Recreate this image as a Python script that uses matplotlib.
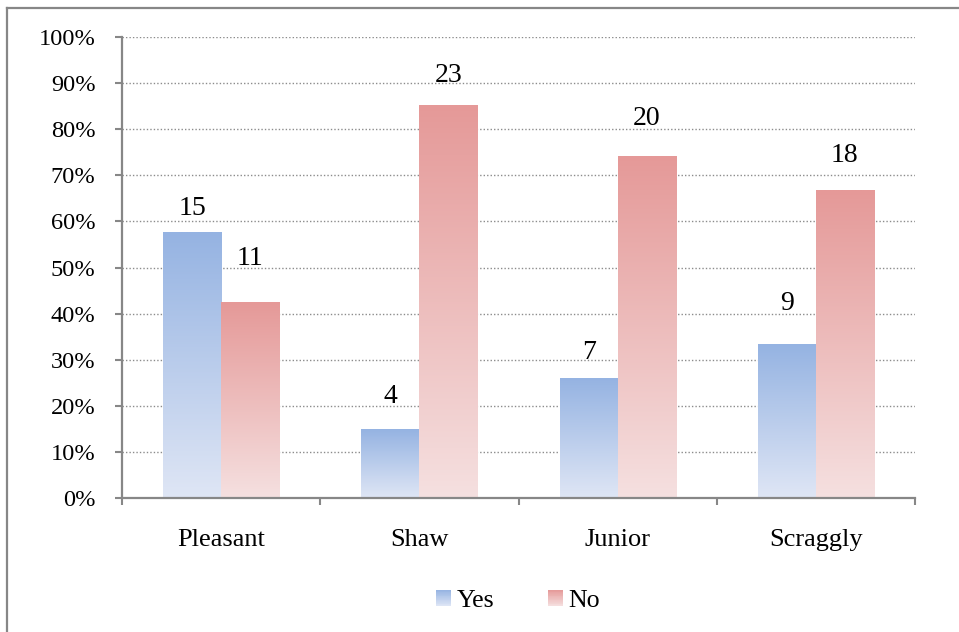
import numpy as np
import matplotlib
matplotlib.use("Agg")
import matplotlib.pyplot as plt
from matplotlib.colors import LinearSegmentedColormap, to_rgb
from matplotlib.legend_handler import HandlerBase
from matplotlib.patches import Rectangle
from matplotlib.lines import Line2D

# Survey answers per area
categories = ["Pleasant", "Shaw", "Junior", "Scraggly"]
yes_counts = [15, 4, 7, 9]
no_counts = [11, 23, 20, 18]
series_names = ["Yes", "No"]

# how far each count label sits above its bar (points)
yes_label_lift = [12, 19, 14, 25]
no_label_lift = [27, 17, 23, 21]

yes_counts = np.array(yes_counts, dtype=float)
no_counts = np.array(no_counts, dtype=float)
totals = yes_counts + no_counts
yes_share = yes_counts / totals * 100
no_share = no_counts / totals * 100

# gradient colours: (top, bottom)
YES_GRAD = ("#95B3E2", "#DFE6F5")
NO_GRAD = ("#E59998", "#F5E0E0")
AXIS_GRAY = "#878787"

plt.rcParams["font.family"] = ["Liberation Serif", "DejaVu Serif"]

fig = plt.figure(figsize=(9.59, 6.32), dpi=100)
ax = fig.add_axes([122 / 959, 1 - 498 / 632, (915 - 122) / 959, (498 - 37) / 632])

x = np.arange(len(categories))
width = 0.293


def gradient_bars(ax, xs, heights, grad):
    cmap = LinearSegmentedColormap.from_list("g", [grad[1], grad[0]])
    bars = ax.bar(xs, heights, width, color="none", edgecolor="none", zorder=2)
    grad_img = np.linspace(0, 1, 256).reshape(-1, 1)
    for b in bars:
        x0, y0 = b.get_x(), b.get_y()
        w, h = b.get_width(), b.get_height()
        ax.imshow(grad_img, cmap=cmap, origin="lower", aspect="auto",
                  extent=(x0, x0 + w, y0, y0 + h), zorder=2,
                  interpolation="bilinear")
    return bars


bars_yes = gradient_bars(ax, x - width / 2, yes_share, YES_GRAD)
bars_no = gradient_bars(ax, x + width / 2, no_share, NO_GRAD)

# count labels above each bar
for bars, counts, lifts in ((bars_yes, yes_counts, yes_label_lift),
                            (bars_no, no_counts, no_label_lift)):
    for b, c, lift in zip(bars, counts, lifts):
        ax.annotate(f"{int(c)}", (b.get_x() + b.get_width() / 2, b.get_height()),
                    xytext=(0, lift), textcoords="offset points",
                    ha="center", va="baseline", fontsize=20, color="black")

ax.set_xlim(-0.5, len(categories) - 0.5)
ax.set_ylim(0, 100)

# y axis
ax.set_yticks(np.arange(0, 101, 10))
ax.set_yticklabels([f"{v}%" for v in range(0, 101, 10)])
ax.yaxis.grid(True, linestyle=(0, (1, 1.5)), color="#8c8c8c", linewidth=1.0, zorder=0)
ax.set_axisbelow(True)

# x axis: ticks between categories, labels at centres
ax.set_xticks(np.arange(-0.5, len(categories), 1.0))
ax.set_xticklabels([])
ax.set_xticks(x, minor=True)
ax.set_xticklabels(categories, minor=True)
ax.tick_params(axis="x", which="major", length=5, width=1.5, color=AXIS_GRAY, direction="out")
ax.tick_params(axis="x", which="minor", length=0, pad=22, labelsize=19)
ax.tick_params(axis="y", length=5, width=1.5, color=AXIS_GRAY, direction="out",
               pad=14, labelsize=17.6)

for s in ("top", "right"):
    ax.spines[s].set_visible(False)
for s in ("left", "bottom"):
    ax.spines[s].set_color(AXIS_GRAY)
    ax.spines[s].set_linewidth(1.6)


class GradientHandler(HandlerBase):
    def __init__(self, grad, n=20):
        super().__init__()
        self.grad = grad
        self.n = n

    def create_artists(self, legend, orig_handle, xdescent, ydescent,
                       width, height, fontsize, trans):
        top = np.array(to_rgb(self.grad[0]))
        bot = np.array(to_rgb(self.grad[1]))
        artists = []
        for i in range(self.n):
            t = (i + 0.5) / self.n
            col = bot + (top - bot) * t
            r = Rectangle((-xdescent, -ydescent + height * i / self.n), width,
                          height / self.n + 0.01, facecolor=col, edgecolor="none",
                          transform=trans)
            artists.append(r)
        return artists


h_yes = Rectangle((0, 0), 1, 1)
h_no = Rectangle((0, 0), 1, 1)
fig.legend([h_yes, h_no], series_names,
           handler_map={h_yes: GradientHandler(YES_GRAD), h_no: GradientHandler(NO_GRAD)},
           loc="center", bbox_to_anchor=(518 / 959, 1 - 601 / 632), ncol=2,
           frameon=False, fontsize=18.6, handlelength=0.58, handleheight=0.58,
           handletextpad=0.22, columnspacing=2.1)

# outer chart border
fig.add_artist(Line2D([7 / 959, 7 / 959], [1 - 8 / 632, -0.1], transform=fig.transFigure,
                      color=AXIS_GRAY, linewidth=1.6))
fig.add_artist(Line2D([7 / 959, 1.1], [1 - 8 / 632, 1 - 8 / 632], transform=fig.transFigure,
                      color=AXIS_GRAY, linewidth=1.6))

fig.savefig("out.png", dpi=100)
